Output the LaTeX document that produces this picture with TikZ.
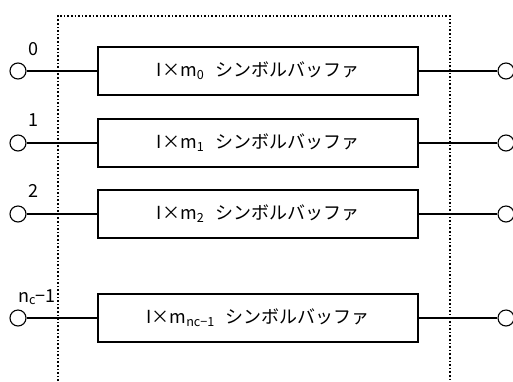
\documentclass[tikz,border=0pt]{standalone}
\usepackage{fontspec}
\setmainfont{Noto Sans CJK JP}
\usetikzlibrary{positioning}
\newcommand{\symbuf}[1]{I×m\textsubscript{#1}\hspace{0.6em}シンボルバッファ}
\begin{document}
\begin{tikzpicture}[x=1pt,y=-1pt,font=\fontsize{18}{21}\selectfont,
  buf/.style={rectangle,draw,line width=1.2pt,minimum width=320pt,minimum height=48pt,inner sep=0pt},
  port/.style={circle,draw,line width=1.1pt,minimum size=16pt,inner sep=0pt,fill=white},
  lead/.style={line width=2.4pt}]
\useasboundingbox (0,0) rectangle (513,381);
% Enclosure
\draw[dotted,line width=1.6pt] (58,381) -- (58,16) -- (450,16) -- (450,381);
% Buffers
\node[buf] (buf0) at (258,71) {\symbuf{0}};
\node[buf] (buf1) at (258,143) {\symbuf{1}};
\node[buf] (buf2) at (258,214) {\symbuf{2}};
\node[buf] (bufn) at (258,318) {\symbuf{nc−1}};
% Input ports
\node[port] (in0) at (18,71) {};
\node[port] (in1) at (18,143) {};
\node[port] (in2) at (18,214) {};
\node[port] (inn) at (18,318) {};
% Output ports
\node[port] (out0) at (506,71) {};
\node[port] (out1) at (506,143) {};
\node[port] (out2) at (506,214) {};
\node[port] (outn) at (506,318) {};
% Port labels
\node (lab0) at (33,49) {0};
\node (lab1) at (33,120) {1};
\node (lab2) at (33,191) {2};
\node (labn) at (37,297) {n\textsubscript{c}−1};
% Leads
\draw[lead] (in0) -- (buf0);
\draw[lead] (in1) -- (buf1);
\draw[lead] (in2) -- (buf2);
\draw[lead] (inn) -- (bufn);
\draw[lead] (buf0) -- (out0);
\draw[lead] (buf1) -- (out1);
\draw[lead] (buf2) -- (out2);
\draw[lead] (bufn) -- (outn);
\end{tikzpicture}
\end{document}
